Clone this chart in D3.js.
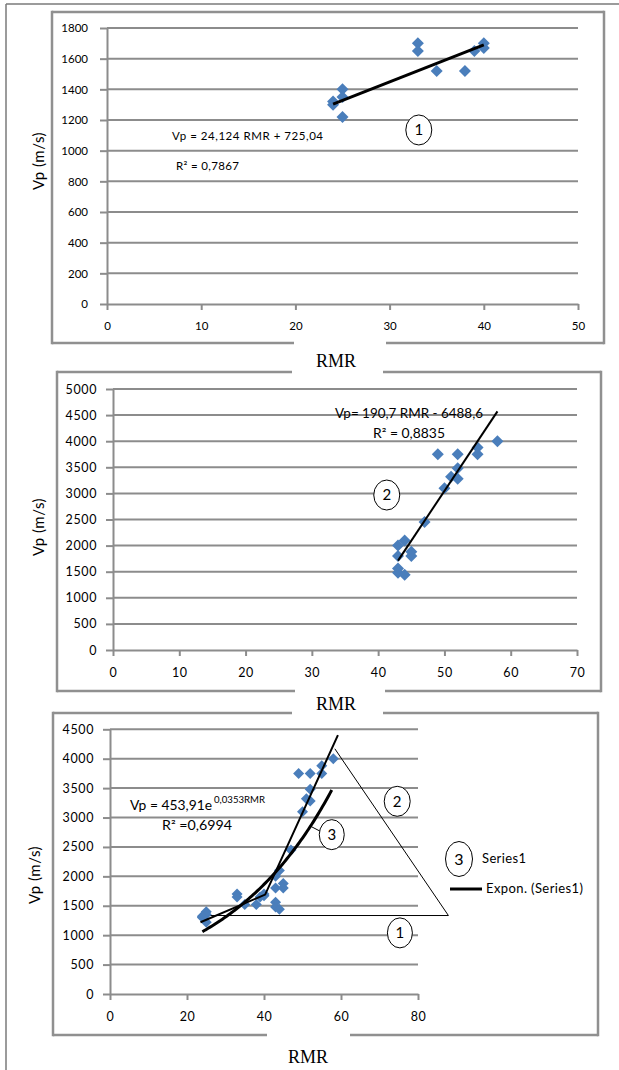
<!DOCTYPE html>
<html>
<head>
<meta charset="utf-8">
<script src="https://cdn.jsdelivr.net/npm/d3@7"></script>
<style>
  body { margin: 0; background: #fff; }
  svg { display: block; }
  text { font-family: Lato, "Open Sans", sans-serif; fill: #000; }
</style>
</head>
<body>
<script>
// ---- Zone 1: RMR vs P-wave velocity ----
const rmr1 = [33, 33, 35, 38, 39, 40, 40, 25, 25, 24, 24, 25];
const vp1  = [1700, 1650, 1520, 1520, 1650, 1700, 1670, 1400, 1350, 1320, 1300, 1220];

// ---- Zone 2 ----
const rmr2 = [58, 55, 55, 52, 49, 52, 51, 52, 50, 47, 44, 43, 43, 45, 45, 43, 43, 44];
const vp2  = [4000, 3880, 3750, 3750, 3750, 3480, 3320, 3280, 3100, 2450, 2100, 2000, 1800, 1880, 1800, 1560, 1480, 1440];

// Linear fits (as printed on the charts)
const fit1 = { a: 24.124, b: 725.04, from: 24, to: 40 };
const fit2 = { a: 190.7, b: -6488.6, from: 43, to: 58 };
// Exponential fit of the merged series
const fit3 = { k: 453.91, r: 0.0353, from: 24, to: 57.6 };

// Hand-drawn two-segment line on the merged chart
const segRMR = [23.5, 40.3, 59.2];
const segVp  = [1220, 1690, 4400];
// Triangle outline grouping zones 1 and 2
const triRMR = [24.7, 87.9, 58.4];
const triVp  = [1334, 1334, 4169];

// Axis ticks
const xTicks1 = [0, 10, 20, 30, 40, 50];
const yTicks1 = [0, 200, 400, 600, 800, 1000, 1200, 1400, 1600, 1800];
const xTicks2 = [0, 10, 20, 30, 40, 50, 60, 70];
const yTicks2 = [0, 500, 1000, 1500, 2000, 2500, 3000, 3500, 4000, 4500, 5000];
const xTicks3 = [0, 20, 40, 60, 80];
const yTicks3 = [0, 500, 1000, 1500, 2000, 2500, 3000, 3500, 4000, 4500];

const BLUE = "#4A7EBB";
const GRID = "#8c8c8c";
const BORDER = "#909090";

const svg = d3.select("body").append("svg")
  .attr("width", 619).attr("height", 1070);

// page frame
svg.append("line").attr("x1", 6).attr("y1", 4).attr("x2", 619).attr("y2", 4)
  .attr("stroke", "#7a7a7a").attr("stroke-width", 1.5);
svg.append("line").attr("x1", 6).attr("y1", 4).attr("x2", 6).attr("y2", 1070)
  .attr("stroke", "#7a7a7a").attr("stroke-width", 1.5);

// chart border, with optional gaps in top / bottom edges
function box(x0, y0, x1, y1, topGap, bottomGap) {
  const g = svg.append("g").attr("stroke", BORDER).attr("stroke-width", 2.5).attr("fill", "none");
  const edge = (ya, gap) => {
    if (gap) {
      g.append("line").attr("x1", x0).attr("y1", ya).attr("x2", gap[0]).attr("y2", ya);
      g.append("line").attr("x1", gap[1]).attr("y1", ya).attr("x2", x1).attr("y2", ya);
    } else {
      g.append("line").attr("x1", x0).attr("y1", ya).attr("x2", x1).attr("y2", ya);
    }
  };
  edge(y0, topGap);
  edge(y1, bottomGap);
  g.append("line").attr("x1", x0).attr("y1", y0 - 1.25).attr("x2", x0).attr("y2", y1 + 1.25);
  g.append("line").attr("x1", x1).attr("y1", y0 - 1.25).attr("x2", x1).attr("y2", y1 + 1.25);
}

const diamond = r => `M0,${-r}L${r},0L0,${r}L${-r},0Z`;

function panel(cfg) {
  const x = d3.scaleLinear().domain(cfg.xDomain).range(cfg.xRange);
  const y = d3.scaleLinear().domain(cfg.yDomain).range(cfg.yRange);
  const g = svg.append("g");

  // horizontal gridlines
  g.append("g").selectAll("line").data(cfg.yTicks.filter(v => v > 0)).join("line")
    .attr("x1", cfg.xRange[0]).attr("x2", cfg.xRange[1])
    .attr("y1", d => y(d)).attr("y2", d => y(d))
    .attr("stroke", GRID).attr("stroke-width", 2);

  // y axis
  const ya = g.append("g").attr("transform", `translate(${cfg.xRange[0]},0)`)
    .call(d3.axisLeft(y).tickValues(cfg.yTicks).tickFormat(d3.format("d"))
      .tickSize(7).tickSizeOuter(0).tickPadding(cfg.yPad));
  // x axis
  const xa = g.append("g").attr("transform", `translate(0,${cfg.yRange[0]})`)
    .call(d3.axisBottom(x).tickValues(cfg.xTicks).tickFormat(d3.format("d"))
      .tickSize(6).tickSizeOuter(0).tickPadding(cfg.xPad));
  [ya, xa].forEach(a => {
    a.select(".domain").attr("stroke", GRID).attr("stroke-width", 2);
    a.selectAll(".tick line").attr("stroke", GRID).attr("stroke-width", 2);
    a.selectAll(".tick text").style("font-family", "Lato, sans-serif")
      .style("font-size", cfg.tickFont + "px").style("letter-spacing", cfg.tickSpacing + "px")
      .attr("fill", "#000");
  });

  // axis titles
  g.append("text")
    .attr("transform", `translate(${cfg.yTitle[0]},${cfg.yTitle[1]}) rotate(-90)`)
    .attr("text-anchor", "middle").style("font-size", "15px").style("letter-spacing", "0.5px")
    .text("Vp (m/s)");
  g.append("text").attr("x", cfg.xTitle[0]).attr("y", cfg.xTitle[1])
    .attr("text-anchor", "middle")
    .style("font-family", '"Liberation Serif", "Times New Roman", serif').style("font-size", "18px")
    .text("RMR");

  return { g, x, y };
}

function marks(p, rmr, vp, r) {
  p.g.append("g").selectAll("path").data(rmr.map((d, i) => [d, vp[i]])).join("path")
    .attr("transform", d => `translate(${p.x(d[0])},${p.y(d[1])})`)
    .attr("d", diamond(r)).attr("fill", BLUE);
}

function badge(p, rmr, vp, label, rx, ry) {
  const c = p.g.append("g").attr("transform", `translate(${p.x(rmr)},${p.y(vp)})`);
  c.append("ellipse").attr("rx", rx).attr("ry", ry)
    .attr("fill", "#fff").attr("stroke", "#000").attr("stroke-width", 1);
  c.append("text").attr("text-anchor", "middle").attr("dy", "0.36em")
    .style("font-size", "15px").text(label);
}

// ================= Chart 1 =================
box(52, 12, 604, 343, null, [294, 386]);
const p1 = panel({
  xDomain: [0, 50], xRange: [107, 578], yDomain: [0, 1800], yRange: [304, 28],
  xTicks: xTicks1, yTicks: yTicks1, yPad: 12, xPad: 12, tickFont: 11.5, tickSpacing: 0,
  yTitle: [44, 161], xTitle: [336, 367]
});
marks(p1, rmr1, vp1, 6);
p1.g.append("line")
  .attr("x1", p1.x(fit1.from)).attr("y1", p1.y(fit1.a * fit1.from + fit1.b))
  .attr("x2", p1.x(fit1.to)).attr("y2", p1.y(fit1.a * fit1.to + fit1.b))
  .attr("stroke", "#000").attr("stroke-width", 3);
p1.g.append("text").attr("x", 172).attr("y", 140).style("font-size", "11.5px")
  .attr("textLength", 151).attr("lengthAdjust", "spacing").text("Vp = 24,124 RMR + 725,04");
p1.g.append("text").attr("x", 176).attr("y", 170).style("font-size", "11.5px")
  .attr("textLength", 63).attr("lengthAdjust", "spacing").text("R² = 0,7867");
badge(p1, 33.1, 1135, "1", 13, 15);

// ================= Chart 2 =================
box(57, 372, 601, 691, [292, 383], [295, 385]);
const p2 = panel({
  xDomain: [0, 70], xRange: [113, 577], yDomain: [0, 5000], yRange: [650, 389],
  xTicks: xTicks2, yTicks: yTicks2, yPad: 9, xPad: 12, tickFont: 12.5, tickSpacing: 0.6,
  yTitle: [44, 527], xTitle: [336, 710]
});
marks(p2, rmr2, vp2, 6);
p2.g.append("line")
  .attr("x1", p2.x(fit2.from)).attr("y1", p2.y(fit2.a * fit2.from + fit2.b))
  .attr("x2", p2.x(fit2.to)).attr("y2", p2.y(fit2.a * fit2.to + fit2.b))
  .attr("stroke", "#000").attr("stroke-width", 2);
p2.g.append("text").attr("x", 335).attr("y", 418).style("font-size", "12.5px")
  .attr("textLength", 148).attr("lengthAdjust", "spacingAndGlyphs").text("Vp= 190,7 RMR - 6488,6");
p2.g.append("text").attr("x", 373).attr("y", 438).style("font-size", "12.5px")
  .attr("textLength", 72).attr("lengthAdjust", "spacingAndGlyphs").text("R² = 0,8835");
badge(p2, 41.3, 2969, "2", 13, 15);

// ================= Chart 3 (merged) =================
box(53, 713, 598, 1035, [292, 383], [267, 350]);
const p3 = panel({
  xDomain: [0, 80], xRange: [110, 418], yDomain: [0, 4500], yRange: [994, 729.3],
  xTicks: xTicks3, yTicks: yTicks3, yPad: 9, xPad: 12, tickFont: 12.5, tickSpacing: 0.6,
  yTitle: [40, 875], xTitle: [308, 1063]
});
// triangle outline
p3.g.append("path")
  .attr("d", d3.line()(triRMR.map((d, i) => [p3.x(d), p3.y(triVp[i])])))
  .attr("fill", "none").attr("stroke", "#000").attr("stroke-width", 1);
marks(p3, rmr1.concat(rmr2), vp1.concat(vp2), 5.5);
// two-segment linear line
p3.g.append("path")
  .attr("d", d3.line()(segRMR.map((d, i) => [p3.x(d), p3.y(segVp[i])])))
  .attr("fill", "none").attr("stroke", "#000").attr("stroke-width", 2);
// exponential trend
const expPts = d3.range(fit3.from, fit3.to + 0.001, 0.4).map(r => [p3.x(r), p3.y(fit3.k * Math.exp(fit3.r * r))]);
p3.g.append("path").attr("d", d3.line().curve(d3.curveMonotoneX)(expPts))
  .attr("fill", "none").attr("stroke", "#000").attr("stroke-width", 3);

p3.g.append("text").attr("x", 130).attr("y", 810).style("font-size", "13px")
  .attr("textLength", 82).attr("lengthAdjust", "spacingAndGlyphs").text("Vp = 453,91e");
p3.g.append("text").attr("x", 214).attr("y", 803).style("font-size", "9px")
  .attr("textLength", 51).attr("lengthAdjust", "spacingAndGlyphs").text("0,0353RMR");
p3.g.append("text").attr("x", 162).attr("y", 830).style("font-size", "13px")
  .attr("textLength", 70).attr("lengthAdjust", "spacingAndGlyphs").text("R² =0,6994");

// leader for the exponential curve badge
p3.g.append("line")
  .attr("x1", p3.x(52.3)).attr("y1", p3.y(2845)).attr("x2", p3.x(54.8)).attr("y2", p3.y(2760))
  .attr("stroke", "#000").attr("stroke-width", 1);
badge(p3, 74.6, 3276, "2", 13, 15);
badge(p3, 57.6, 2709, "3", 12.5, 15);
badge(p3, 75.3, 1039, "1", 12.5, 15);

// legend
const lg = svg.append("g");
const lc = lg.append("g").attr("transform", "translate(459,859)");
lc.append("ellipse").attr("rx", 13.5).attr("ry", 17.5).attr("fill", "#fff").attr("stroke", "#000").attr("stroke-width", 1);
lc.append("text").attr("text-anchor", "middle").attr("dy", "0.36em").style("font-size", "16px").text("3");
lg.append("text").attr("x", 482).attr("y", 863).style("font-size", "13px")
  .attr("textLength", 44).attr("lengthAdjust", "spacing").text("Series1");
lg.append("line").attr("x1", 450).attr("x2", 482).attr("y1", 889).attr("y2", 889)
  .attr("stroke", "#000").attr("stroke-width", 3);
lg.append("text").attr("x", 486).attr("y", 893).style("font-size", "13px")
  .attr("textLength", 97).attr("lengthAdjust", "spacing").text("Expon. (Series1)");
</script>
</body>
</html>
